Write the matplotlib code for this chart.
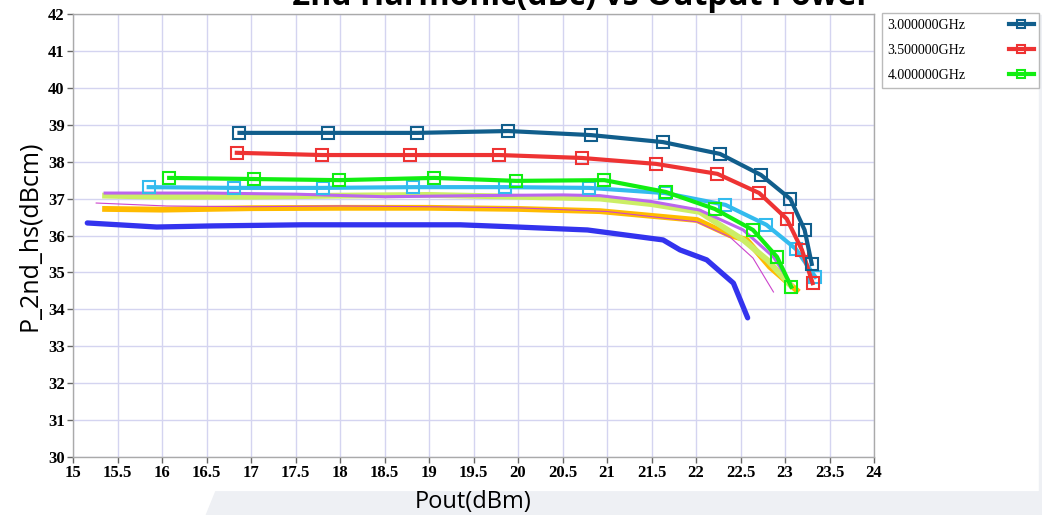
import matplotlib
matplotlib.use("Agg")
import matplotlib.pyplot as plt
from matplotlib.patches import Polygon

# ---- data ----
# marked series (legend entries)
x_30 = [16.87, 17.87, 18.87, 19.89, 20.82, 21.63, 22.27, 22.73, 23.06, 23.22, 23.30]
y_30 = [38.78, 38.78, 38.78, 38.83, 38.72, 38.53, 38.21, 37.64, 36.99, 36.15, 35.23]

x_35 = [16.84, 17.80, 18.79, 19.79, 20.72, 21.55, 22.24, 22.71, 23.02, 23.19, 23.31]
y_35 = [38.24, 38.18, 38.18, 38.18, 38.10, 37.94, 37.67, 37.15, 36.45, 35.61, 34.71]

x_40 = [16.08, 17.03, 17.99, 19.06, 19.98, 20.97, 21.66, 22.21, 22.64, 22.91, 23.07]
y_40 = [37.56, 37.53, 37.50, 37.56, 37.48, 37.50, 37.18, 36.72, 36.15, 35.42, 34.61]

x_lb = [15.85, 16.81, 17.81, 18.82, 19.85, 20.80, 21.65, 22.33, 22.79, 23.12, 23.34]
y_lb = [37.31, 37.29, 37.29, 37.31, 37.31, 37.29, 37.15, 36.83, 36.29, 35.64, 34.88]

# unmarked series
x_pu = [15.36, 16.5, 17.5, 18.5, 19.5, 20.5, 20.92, 21.5, 22.04, 22.53, 22.87, 23.06]
y_pu = [37.15, 37.15, 37.12, 37.05, 37.08, 37.10, 37.08, 36.92, 36.69, 36.15, 35.42, 34.71]

x_yg = [15.36, 16.0, 17.0, 18.0, 19.0, 20.0, 20.92, 21.5, 22.04, 22.53, 22.80, 23.06]
y_yg = [37.08, 37.05, 37.05, 37.08, 37.10, 37.05, 37.00, 36.85, 36.64, 35.88, 35.34, 34.66]

x_or = [15.36, 16.0, 17.0, 18.0, 19.0, 20.0, 20.92, 22.01, 22.38, 22.57, 22.83, 23.13]
y_or = [36.72, 36.70, 36.74, 36.75, 36.75, 36.72, 36.66, 36.42, 36.01, 35.88, 35.15, 34.52]

x_mg = [15.26, 16.05, 17.0, 18.0, 19.0, 20.0, 21.0, 22.01, 22.38, 22.64, 22.87]
y_mg = [36.88, 36.80, 36.78, 36.80, 36.78, 36.75, 36.65, 36.37, 35.96, 35.39, 34.47]

x_bl = [15.16, 15.94, 16.57, 17.58, 19.35, 19.99, 20.78, 21.63, 21.82, 22.12, 22.42, 22.58]
y_bl = [36.34, 36.23, 36.26, 36.29, 36.29, 36.23, 36.15, 35.88, 35.61, 35.34, 34.71, 33.77]

legend_labels = ["3.000000GHz", "3.500000GHz", "4.000000GHz"]
x_ticks = [15, 15.5, 16, 16.5, 17, 17.5, 18, 18.5, 19, 19.5, 20, 20.5, 21, 21.5, 22, 22.5, 23, 23.5, 24]
y_ticks = list(range(30, 43))

fig = plt.figure(figsize=(10.42, 5.15), dpi=100)

# faint watermark shapes in the background
bg = "#eef0f4"
fig.patches.append(Polygon([[0.198, 0.0], [0.207, 0.045], [1.0, 0.045], [1.0, 0.0]],
                           closed=True, transform=fig.transFigure, color=bg, zorder=-5))
fig.patches.append(Polygon([[0.997, 0.045], [1.0, 0.045], [1.0, 0.97], [0.997, 0.97]],
                           closed=True, transform=fig.transFigure, color=bg, zorder=-5))

ax = fig.add_axes([0.0701, 0.1126, 0.7687, 0.8602])

tick_font = dict(family="Liberation Serif", weight="bold", size=12)

ax.plot(x_bl, y_bl, color="#3333ee", lw=3.8, solid_capstyle="round", zorder=3)
ax.plot(x_or, y_or, color="#ffbb00", lw=4.2, zorder=3)
ax.plot(x_yg, y_yg, color="#ccee66", lw=4.2, zorder=3)
ax.plot(x_pu, y_pu, color="#bb66ee", lw=2.2, zorder=3)
ax.plot(x_mg, y_mg, color="#cc44cc", lw=0.8, zorder=4)
ax.plot(x_lb, y_lb, color="#33bbee", lw=3.0, marker="s", ms=8, mfc="none", mew=1.5, zorder=5)
h40, = ax.plot(x_40, y_40, color="#11ee11", lw=3.0, marker="s", ms=8, mfc="none", mew=1.5, zorder=5)
h35, = ax.plot(x_35, y_35, color="#ee3333", lw=3.0, marker="s", ms=8, mfc="none", mew=1.5, zorder=6)
h30, = ax.plot(x_30, y_30, color="#115e8c", lw=3.0, marker="s", ms=8, mfc="none", mew=1.5, zorder=7)

ax.set_xlim(15, 24)
ax.set_ylim(30, 42)
ax.set_xticks(x_ticks)
ax.set_xticklabels([f"{t:g}" for t in x_ticks], fontdict=tick_font)
ax.set_yticks(y_ticks)
ax.set_yticklabels([str(t) for t in y_ticks], fontdict=tick_font)
ax.tick_params(direction="out", length=4, width=1, color="#666666", pad=2)
ax.grid(True, color="#d4d4f0", lw=1)
ax.set_axisbelow(True)
for s in ax.spines.values():
    s.set_color("#aaaaaa")
    s.set_linewidth(1)

ax.set_xlabel("Pout(dBm)", family="Open Sans", fontsize=17, labelpad=6)
ax.set_ylabel("P_2nd_hs(dBcm)", family="Open Sans", fontsize=18, labelpad=4)

fig.text(0.5576, 1 - 5 / 515, "2nd Harmonic(dBc) vs Output Power", ha="center", va="baseline",
         family="Open Sans", weight="bold", fontsize=23)

leg = fig.legend([h30, h35, h40], legend_labels, loc="upper left",
                 bbox_to_anchor=(0.8464, 0.9748), markerfirst=False, frameon=True,
                 prop=dict(family="Liberation Serif", size=10), handlelength=1.8,
                 handletextpad=3.1, borderpad=0.4, borderaxespad=0, labelspacing=0.88,
                 fancybox=False, markerscale=0.8)
leg.get_frame().set_edgecolor("#aaaaaa")
leg.get_frame().set_linewidth(1)

fig.savefig("out.png", dpi=100)
